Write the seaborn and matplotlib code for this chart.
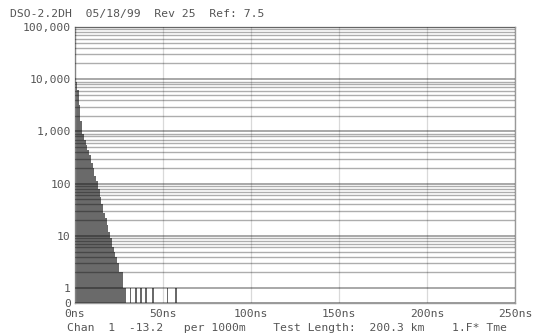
import numpy as np
import pandas as pd
import matplotlib
matplotlib.use("Agg")
import matplotlib.pyplot as plt
import seaborn as sns
from matplotlib.ticker import FixedLocator

# ---- data ----
bin_ns = [0, 1, 2, 3, 4, 5, 6, 7, 8, 9, 10, 11, 12, 13, 14, 15, 16, 17, 18, 19,
          20, 21, 22, 23, 24, 25, 26, 27, 28, 31, 34, 37, 40, 44, 52, 57]
counts = [9000, 6300, 3200, 1600, 900, 700, 560, 450, 350, 250, 200, 140, 110, 80,
          56, 40, 28, 22, 16, 12, 9, 6, 5, 4, 3, 2, 2, 1, 1, 1, 1, 1, 1, 1, 1, 1]
y_ticks = [0, 1, 10, 100, 1000, 10000, 100000]
y_labels = ["0", "1", "10", "100", "1,000", "10,000", "100,000"]
x_ticks = [0, 50, 100, 150, 200, 250]
x_labels = ["0ns", "50ns", "100ns", "150ns", "200ns", "250ns"]
header = "DSO-2.2DH  05/18/99  Rev 25  Ref: 7.5"
footer = "Chan  1  -13.2   per 1000m    Test Length:  200.3 km    1.F* Tme"

df = pd.DataFrame({"ns": [b + 0.5 for b in bin_ns], "count": counts})

sns.set_style("white")
plt.rcParams["font.family"] = ["DejaVu Sans Mono", "DejaVu Sans"]

fig = plt.figure(figsize=(5.37, 3.36), dpi=100)
ax = fig.add_axes([75 / 537, 33 / 336, 440 / 537, 276 / 336])

sns.histplot(data=df, x="ns", weights="count", binwidth=1, binrange=(0, 66),
             color="#6a6a6a", alpha=1.0, linewidth=0, edgecolor="none",
             ax=ax, zorder=1)

ax.set_yscale("symlog", linthresh=1, linscale=0.257)
ax.set_ylim(0, 100000)
ax.set_xlim(0, 250)

ax.yaxis.set_major_locator(FixedLocator(y_ticks))
ax.set_yticklabels(y_labels)
minor_y = [k * 10 ** n for n in range(0, 5) for k in range(2, 10)]
ax.yaxis.set_minor_locator(FixedLocator(minor_y))

ax.xaxis.set_major_locator(FixedLocator(x_ticks))
ax.set_xticklabels(x_labels)
ax.xaxis.set_minor_locator(FixedLocator(list(range(0, 251, 10))))

ax.grid(True, which="major", axis="y", color="black", alpha=0.4, lw=1.2, zorder=3)
ax.grid(True, which="minor", axis="y", color="black", alpha=0.32, lw=1.0, zorder=3)
ax.grid(True, which="major", axis="x", color="black", alpha=0.15, lw=0.9, zorder=3)
ax.set_axisbelow(False)

ax.tick_params(axis="y", which="both", length=0, pad=3, labelsize=8.2,
               labelcolor="#555555")
ax.tick_params(axis="x", which="major", length=4, direction="in", pad=4,
               labelsize=8.2, labelcolor="#555555", color="#999999")
ax.tick_params(axis="x", which="minor", length=3, direction="in", color="#aaaaaa")

for s in ax.spines.values():
    s.set_color("#999999")
    s.set_linewidth(1.0)

ax.set_xlabel("")
ax.set_ylabel("")

fig.text(10 / 537, 1 - 14 / 336, header, ha="left", va="center",
         fontsize=8.2, color="#555555")
fig.text(67 / 537, 1 - 328 / 336, footer, ha="left", va="center",
         fontsize=8.2, color="#555555")

fig.savefig("out.png", dpi=100)
